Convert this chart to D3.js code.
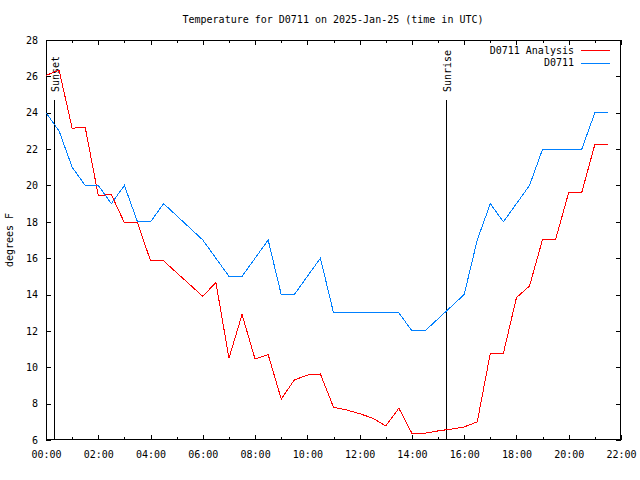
<!DOCTYPE html>
<html><head><meta charset="utf-8">
<script src="https://cdn.jsdelivr.net/npm/d3@7"></script>
<style>body{margin:0;background:#fff}svg{display:block}text{font-family:"DejaVu Sans Mono",monospace;font-size:10px;fill:#000}</style>
</head><body><svg id="c" width="640" height="480"></svg>
<script>
const title = "Temperature for D0711 on 2025-Jan-25 (time in UTC)";
const yLabel = "degrees F";
const xTickLabels = ["00:00","02:00","04:00","06:00","08:00","10:00","12:00","14:00","16:00","18:00","20:00","22:00"];
const yTicks = [6,8,10,12,14,16,18,20,22,24,26,28];
const analysisTimes = ["00:00","00:30","01:00","01:30","02:00","02:30","03:00","03:30","04:00","04:30","06:00","06:30","07:00","07:30","08:00","08:30","09:00","09:30","10:00","10:30","11:00","11:30","12:00","12:30","13:00","13:30","14:00","14:30","15:00","15:30","16:00","16:30","17:00","17:30","18:00","18:30","19:00","19:30","20:00","20:30","21:00","21:30"];
const analysisValues = [26.05,26.35,23.15,23.2,19.45,19.5,17.95,17.95,15.85,15.85,13.9,14.67,10.5,12.9,10.45,10.7,8.25,9.3,9.57,9.63,7.8,7.65,7.45,7.2,6.77,7.75,6.37,6.37,6.5,6.6,6.72,7.0,10.77,10.77,13.83,14.47,17.04,17.04,19.62,19.62,22.26,22.26];
const obsTimes = ["00:00","00:30","01:00","01:30","02:00","02:30","03:00","03:30","04:00","04:30","06:00","07:00","07:30","08:30","09:00","09:30","10:30","11:00","13:30","14:00","14:30","16:00","16:30","17:00","17:30","18:30","19:00","20:30","21:00","21:30"];
const obsValues = [24,23,21,20,20,19,20,18,18,19,17,15,15,17,14,14,16,13,13,12,12,14,17,19,18,20,22,22,24,24];
const seriesNames = ["D0711 Analysis","D0711"];
const seriesColors = ["#ff0000","#0080ff"];
const events = [{name:"Sunset", time:"00:19"},{name:"Sunrise", time:"15:18"}];

const toH = s => { const [h,m] = s.split(":").map(Number); return h + m/60; };
const L = 46, R = 621, T = 40, B = 440;
const svg = d3.select("#c");
const x = d3.scaleLinear().domain([0,22]).range([L,R]);
const y = d3.scaleLinear().domain([6,28]).range([B,T]);

// title and y label
svg.append("text").attr("x",333).attr("y",23).attr("text-anchor","middle").text(title);
svg.append("text").attr("transform","translate(13,240) rotate(-90)").attr("text-anchor","middle").text(yLabel);

const g = svg.append("g").attr("shape-rendering","crispEdges");
const majorX = d3.range(0,23,2), minorX = d3.range(1,22,2);
// bottom axis
const xb = g.append("g").attr("transform",`translate(0,${B})`)
  .call(d3.axisBottom(x).tickValues(majorX).tickSizeInner(-5).tickSizeOuter(0).tickPadding(10)
  .tickFormat((d,i)=>xTickLabels[i]));
xb.select(".domain").remove();
xb.selectAll("text").attr("dy","0.32em").attr("y",15);
g.append("g").attr("transform",`translate(0,${B})`)
  .call(d3.axisBottom(x).tickValues(minorX).tickSizeInner(-3).tickSizeOuter(0).tickFormat(""))
  .select(".domain").remove();
// top axis mirror
g.append("g").attr("transform",`translate(0,${T})`)
  .call(d3.axisTop(x).tickValues(majorX).tickSizeInner(-5).tickSizeOuter(0).tickFormat(""))
  .select(".domain").remove();
g.append("g").attr("transform",`translate(0,${T})`)
  .call(d3.axisTop(x).tickValues(minorX).tickSizeInner(-3).tickSizeOuter(0).tickFormat(""))
  .select(".domain").remove();
// left axis
const yl = g.append("g").attr("transform",`translate(${L},0)`)
  .call(d3.axisLeft(y).tickValues(yTicks).tickSizeInner(-5).tickSizeOuter(0).tickPadding(8).tickFormat(d3.format("d")));
yl.select(".domain").remove();
yl.selectAll("text").attr("x",-8);
g.append("g").attr("transform",`translate(${R},0)`)
  .call(d3.axisRight(y).tickValues(yTicks).tickSizeInner(-5).tickSizeOuter(0).tickFormat(""))
  .select(".domain").remove();
svg.selectAll(".tick line").attr("stroke","#000");
svg.selectAll(".tick text").attr("font-family","DejaVu Sans Mono").attr("font-size","10px").attr("fill","#000");
// border
g.append("rect").attr("x",L+0.5).attr("y",T+0.5).attr("width",R-L-1).attr("height",B-T-1)
  .attr("fill","none").attr("stroke","#000");

// events
events.forEach(e => {
  const ex = Math.round(x(toH(e.time))) + 0.5;
  g.append("line").attr("x1",ex).attr("x2",ex).attr("y1",100).attr("y2",B).attr("stroke","#000");
  svg.append("text").attr("transform",`translate(${ex+4},92) rotate(-90)`).attr("text-anchor","start").text(e.name);
});

// series
const line = d3.line().x(d=>x(d.t)).y(d=>y(d.v));
const data = [
  analysisTimes.map((t,i)=>({t:toH(t), v:analysisValues[i]})),
  obsTimes.map((t,i)=>({t:toH(t), v:obsValues[i]}))
];
data.forEach((d,i)=>{
  svg.append("path").datum(d).attr("d",line).attr("fill","none").attr("stroke",seriesColors[i])
    .attr("stroke-width",1).attr("shape-rendering","crispEdges");
});

// legend
seriesNames.forEach((n,i)=>{
  const ly = 50 + i*12.5;
  svg.append("text").attr("x",574).attr("y",ly).attr("dy","0.35em").attr("text-anchor","end").text(n);
  g.append("line").attr("x1",581).attr("x2",610).attr("y1",Math.round(ly)+0.5).attr("y2",Math.round(ly)+0.5).attr("stroke",seriesColors[i]);
});
</script></body></html>
